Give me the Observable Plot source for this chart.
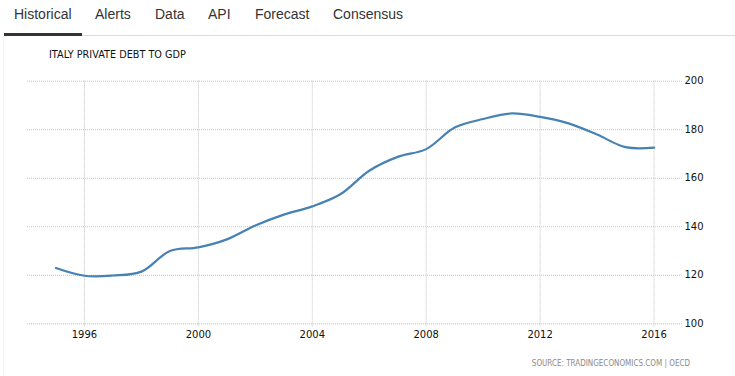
<!DOCTYPE html>
<html>
<head>
<meta charset="utf-8">
<script src="https://cdn.jsdelivr.net/npm/d3@7"></script>
<script src="https://cdn.jsdelivr.net/npm/@observablehq/plot@0.6"></script>
<style>
  html, body { margin: 0; padding: 0; background: #fff; }
  #wrap { position: relative; width: 735px; height: 376px; overflow: hidden; font-family: "Liberation Sans", Arial, sans-serif; }
  #tabs { position: absolute; left: 0; top: 0; width: 735px; height: 36px; }
  .tab { position: absolute; top: 6px; font-size: 14px; color: #333; white-space: nowrap; }
  #tabline { position: absolute; left: 4px; right: 0; top: 35px; height: 1px; background: #dcdcdc; }
  #active { position: absolute; left: 4px; width: 78px; top: 33px; height: 3px; background: #333; }
  #edge { position: absolute; left: 3px; top: 38px; width: 1px; height: 338px; background: #f3f3f3; }
  #title { position: absolute; left: 49px; top: 49px; font-family: "DejaVu Sans", sans-serif; font-size: 9.7px; color: #111; white-space: nowrap; }
  #source { position: absolute; right: 45px; top: 359px; font-family: "DejaVu Sans Condensed", "DejaVu Sans", sans-serif; font-size: 8px; color: #8a8a8a; white-space: nowrap; }
  #chart { position: absolute; left: 0; top: 0; }
</style>
</head>
<body>
<div id="wrap">
  <div id="chart"></div>
  <div id="tabs"></div>
  <div id="tabline"></div>
  <div id="active"></div>
  <div id="edge"></div>
  <div id="title">ITALY PRIVATE DEBT TO GDP</div>
  <div id="source">SOURCE: TRADINGECONOMICS.COM | OECD</div>
</div>
<script>
const tabNames = ["Historical", "Alerts", "Data", "API", "Forecast", "Consensus"];
const tabLefts = [14, 95, 155, 208, 255, 333];

const years = [1995, 1996, 1997, 1998, 1999, 2000, 2001, 2002, 2003, 2004, 2005,
               2006, 2007, 2008, 2009, 2010, 2011, 2012, 2013, 2014, 2015, 2016];
const debtToGdp = [123.0, 119.8, 119.9, 121.5, 130.0, 131.5, 134.8, 140.5, 145.0, 148.4, 153.5,
                   163.1, 168.8, 172.0, 180.9, 184.4, 186.7, 185.3, 182.6, 178.0, 172.8, 172.6];
const xTicks = [1996, 2000, 2004, 2008, 2012, 2016];
const yTicks = [100, 120, 140, 160, 180, 200];

const tabs = document.getElementById("tabs");
tabNames.forEach((t, i) => {
  const d = document.createElement("div");
  d.className = "tab";
  d.style.left = tabLefts[i] + "px";
  d.textContent = t;
  tabs.appendChild(d);
});

const data = years.map((y, i) => ({year: y, value: debtToGdp[i]}));

const chart = Plot.plot({
  width: 735,
  height: 376,
  marginTop: 80.7,
  marginBottom: 52.7,
  marginLeft: 27,
  marginRight: 53,
  style: {fontFamily: "DejaVu Sans, sans-serif", fontSize: "10px", color: "#111", background: "transparent"},
  x: {domain: [1994, 2017]},
  y: {domain: [100, 200]},
  marks: [
    Plot.gridY(yTicks, {stroke: "#c4c4c4", strokeOpacity: 1, strokeDasharray: "1,1"}),
    Plot.gridX(xTicks, {stroke: "#c4c4c4", strokeOpacity: 1, strokeDasharray: "1,1"}),
    Plot.axisX(xTicks, {tickSize: 3, text: null, stroke: "#c4c4c4", strokeDasharray: "1,1", label: null}),
    Plot.axisX(xTicks, {tickSize: 0, tickPadding: 7, tickFormat: d => String(d), fill: "#111", label: null}),
    Plot.axisY(yTicks, {anchor: "right", tickSize: 0, tickPadding: 2, textAnchor: "start", fill: "#111", label: null}),
    Plot.line(data, {x: "year", y: "value", stroke: "#4682b4", strokeWidth: 2.2, curve: "catmull-rom"})
  ]
});
document.getElementById("chart").appendChild(chart);
</script>
</body>
</html>
